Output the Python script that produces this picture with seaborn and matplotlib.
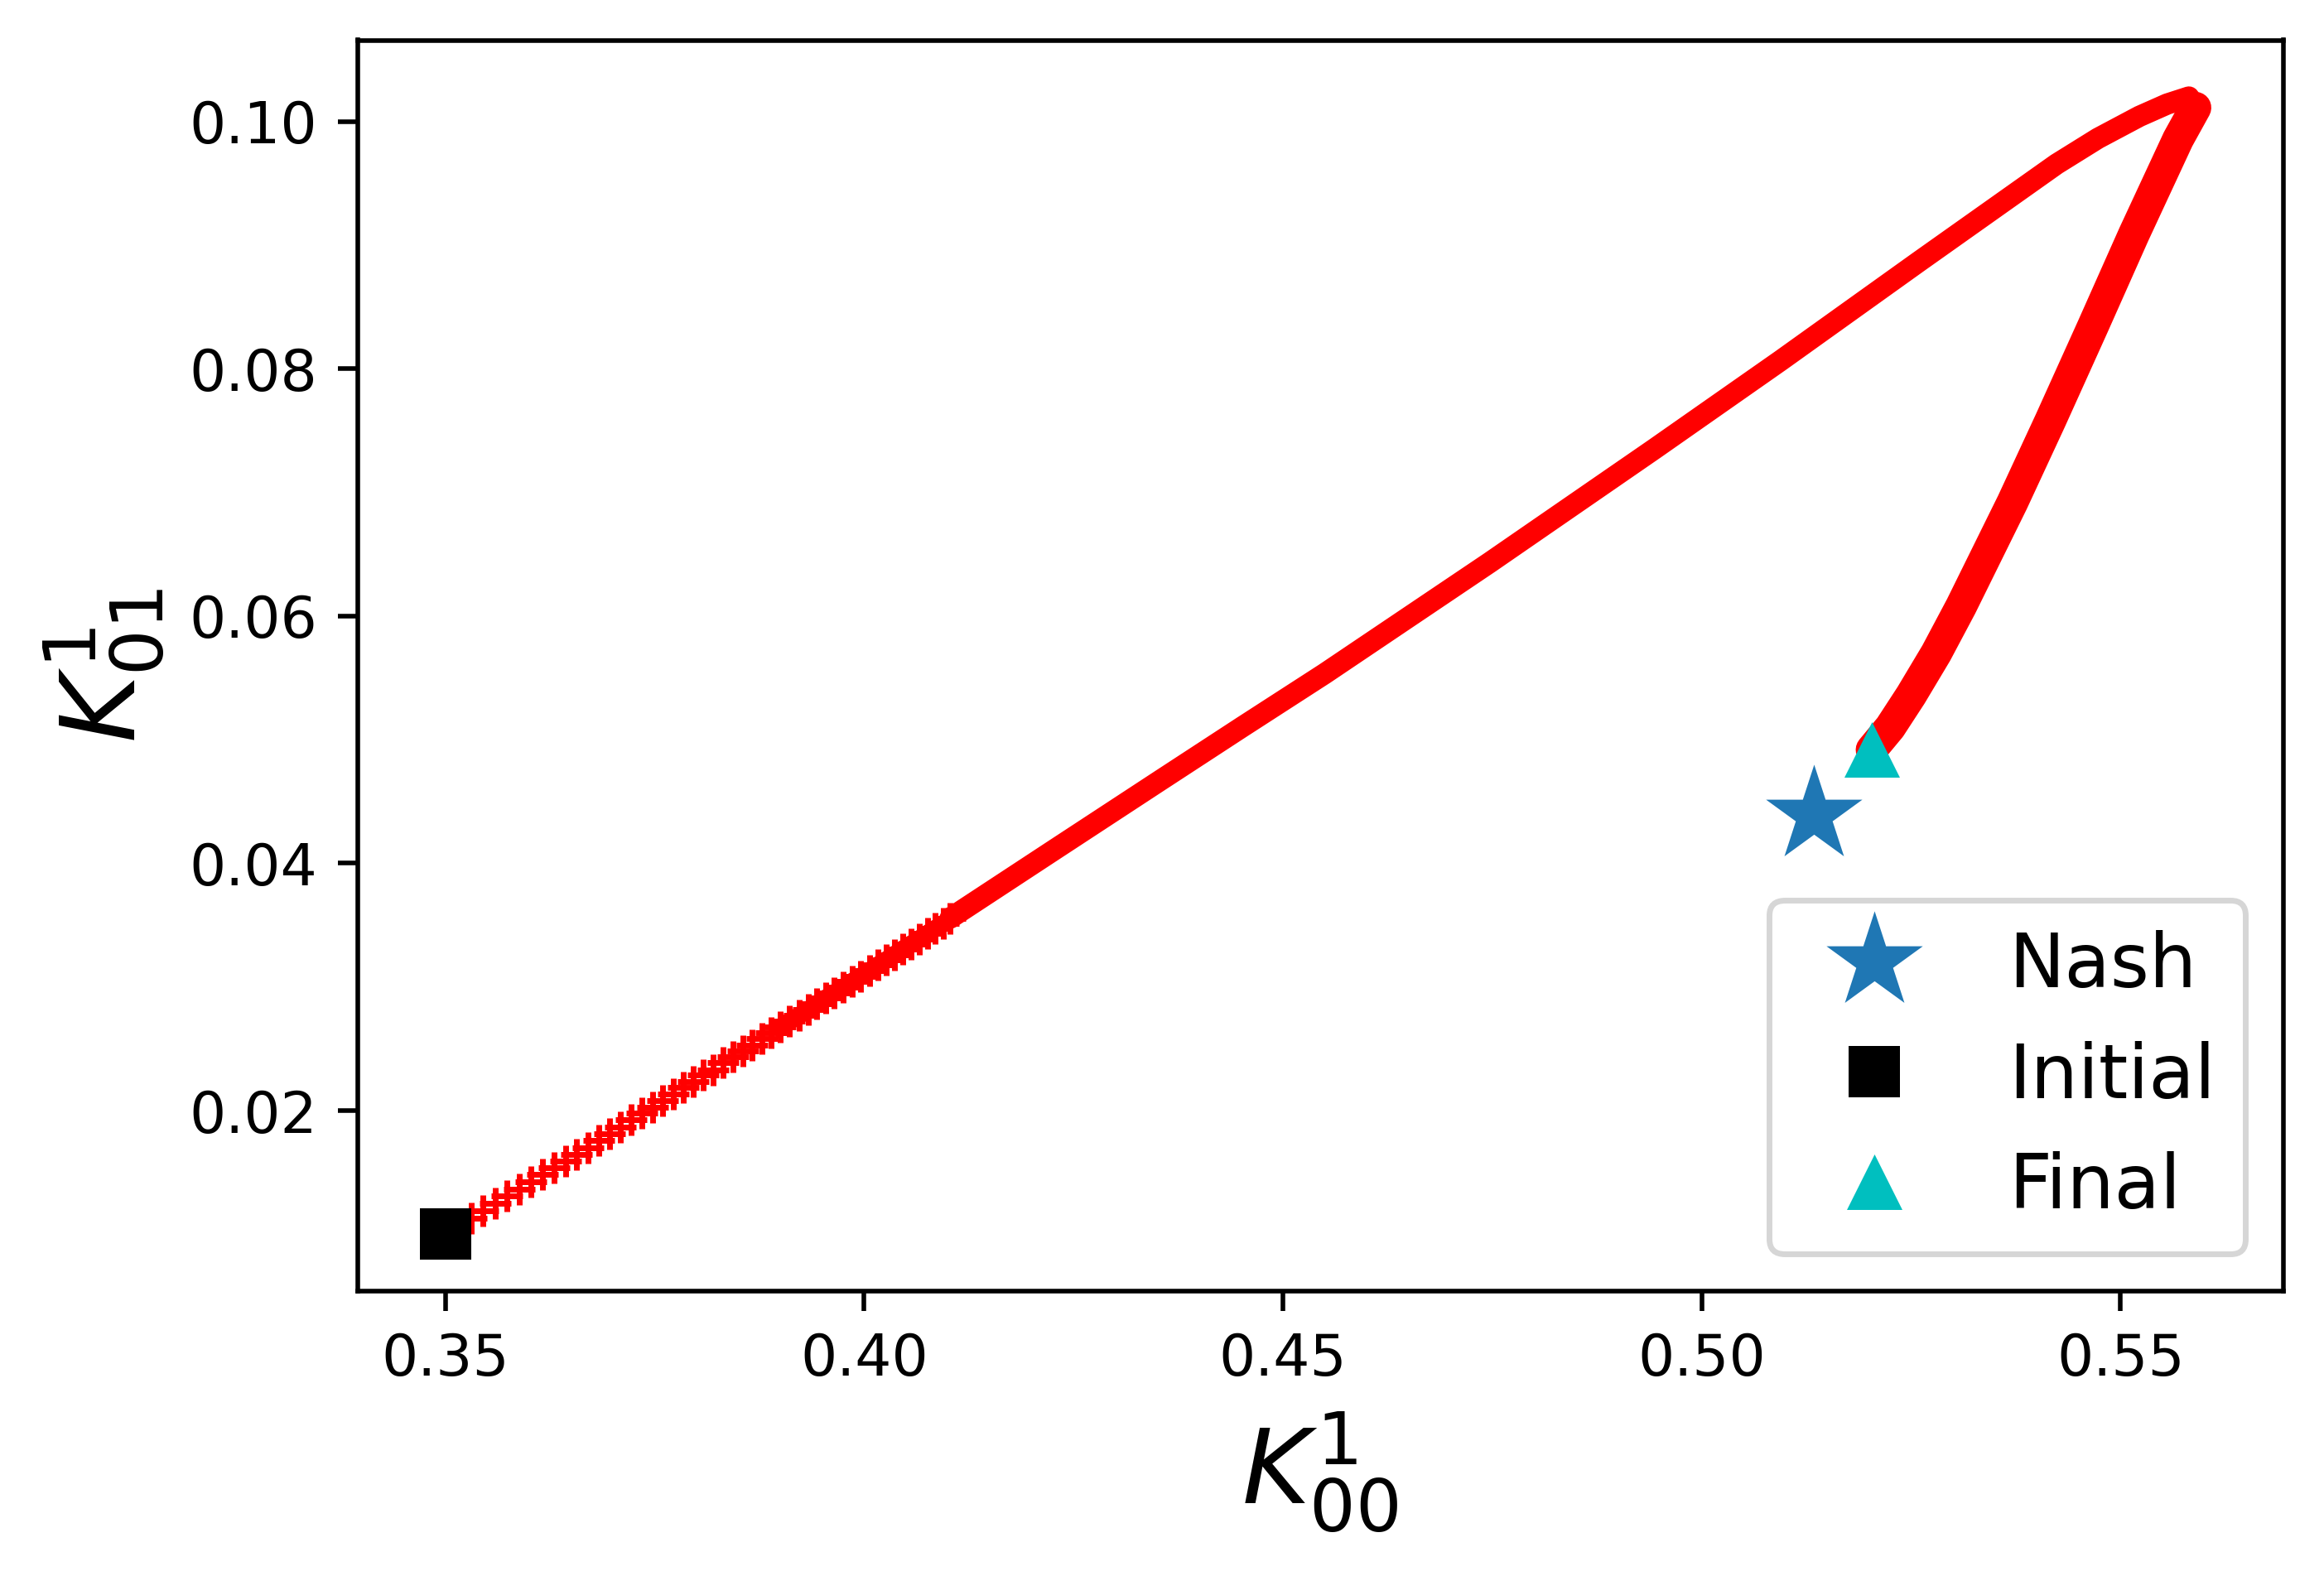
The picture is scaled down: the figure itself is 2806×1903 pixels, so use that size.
import matplotlib
matplotlib.use("Agg")
import matplotlib.pyplot as plt
import seaborn as sns

# marked points
init_x, init_y = [0.3500], [0.0100]
nash_x, nash_y = [0.5134], [0.0439]
final_x, final_y = [0.5203], [0.0492]

# early iterates (still visible one by one near the start)
iter_x = [0.35000, 0.35310, 0.35449, 0.35597, 0.35739, 0.35888, 0.36026, 0.36157,
          0.36299, 0.36437, 0.36569, 0.36704, 0.36832, 0.36965, 0.37093, 0.37218,
          0.37346, 0.37475, 0.37593, 0.37719, 0.37841, 0.37963, 0.38078, 0.38196,
          0.38315, 0.38434, 0.38552, 0.38661, 0.38779, 0.38888, 0.39001, 0.39110,
          0.39224, 0.39333, 0.39436, 0.39538, 0.39643, 0.39752, 0.39857, 0.39960,
          0.40064, 0.40163, 0.40262, 0.40361, 0.40460, 0.40558, 0.40657, 0.40756,
          0.40849, 0.40948, 0.41027]
iter_y = [0.01000, 0.01129, 0.01190, 0.01250, 0.01310, 0.01364, 0.01422, 0.01483,
          0.01536, 0.01594, 0.01647, 0.01701, 0.01757, 0.01815, 0.01869, 0.01925,
          0.01979, 0.02026, 0.02081, 0.02133, 0.02186, 0.02233, 0.02287, 0.02331,
          0.02387, 0.02434, 0.02481, 0.02532, 0.02582, 0.02629, 0.02676, 0.02723,
          0.02769, 0.02816, 0.02863, 0.02908, 0.02952, 0.02995, 0.03044, 0.03086,
          0.03131, 0.03176, 0.03218, 0.03261, 0.03306, 0.03346, 0.03388, 0.03433,
          0.03473, 0.03511, 0.03556]

# dense part: climb to the turning point
rise_x = [0.41027, 0.42295, 0.43530, 0.44514, 0.45497, 0.47464, 0.49431,
          0.50943, 0.52591, 0.54237, 0.54731, 0.55226, 0.55556, 0.55816, 0.55895]
rise_y = [0.03556, 0.04120, 0.04668, 0.05103, 0.05533, 0.06430, 0.07349,
          0.08066, 0.08865, 0.09655, 0.09863, 0.10041, 0.10140, 0.10197, 0.10111]

# and back down to the final point
back_x = [0.55895, 0.55687, 0.55160, 0.54666, 0.54162, 0.53710, 0.53098,
          0.52800, 0.52500, 0.52250, 0.52027]
back_y = [0.10111, 0.09856, 0.09088, 0.08336, 0.07580, 0.06920, 0.06080,
          0.05700, 0.05360, 0.05100, 0.04918]


def main():
    fig, ax = plt.subplots(figsize=(2806 / 500, 1903 / 500), dpi=500)
    fig.subplots_adjust(left=432 / 2806, right=2756.5 / 2806,
                        bottom=1 - 1559 / 1903, top=1 - 48.5 / 1903)

    # trajectory: the iterates get so close that they merge into a band
    sns.lineplot(x=iter_x[30:], y=iter_y[30:], sort=False, estimator=None,
                 color='red', linewidth=3.0, ax=ax, zorder=2)
    sns.lineplot(x=rise_x, y=rise_y, sort=False, estimator=None, color='red',
                 linewidth=3.7, solid_capstyle='round', ax=ax, zorder=2)
    sns.lineplot(x=back_x, y=back_y, sort=False, estimator=None, color='red',
                 linewidth=5.5, solid_capstyle='round', ax=ax, zorder=2)
    sns.scatterplot(x=iter_x, y=iter_y, marker='+', s=30, color='red',
                    linewidth=1, ax=ax, zorder=2)

    sns.scatterplot(x=nash_x, y=nash_y, marker='*', s=310, color='#1f77b4',
                    linewidth=0, label='Nash', ax=ax, zorder=3)
    sns.scatterplot(x=init_x, y=init_y, marker='s', s=82, color='black',
                    linewidth=0, label='Initial', ax=ax, zorder=3)
    sns.scatterplot(x=final_x, y=final_y, marker='^', s=93, color='c',
                    linewidth=0, label='Final', ax=ax, zorder=3)

    ax.set_xlabel(r'$K^1_{00}$', fontsize=18)
    ax.set_ylabel(r'$K^1_{01}$', fontsize=18)
    ax.legend(loc='lower right', fontsize=13, scatteryoffsets=[0.5])

    fig.savefig('out.png', dpi=500)
    plt.close(fig)


if __name__ == '__main__':
    main()
